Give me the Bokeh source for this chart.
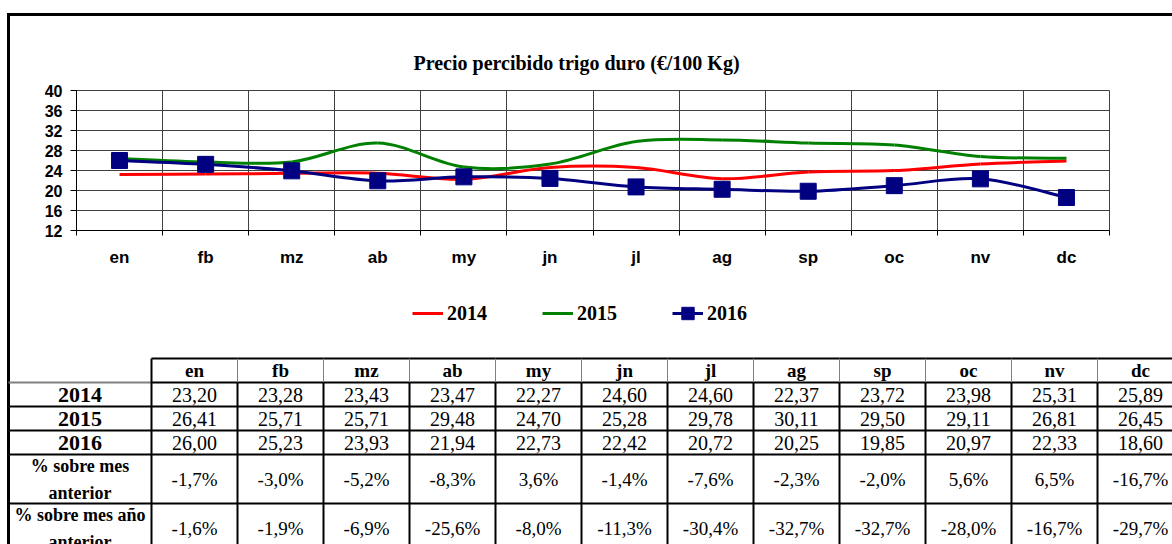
from bokeh.plotting import figure
from bokeh.models import Range1d, FixedTicker, Legend, LegendItem, ColumnDataSource
from bokeh.embed import file_html
from bokeh.resources import INLINE
from bokeh.core.properties import value

# ---------------- data ----------------
MONTHS = ["en", "fb", "mz", "ab", "my", "jn", "jl", "ag", "sp", "oc", "nv", "dc"]
YEARS = ["2014", "2015", "2016"]
P2014 = [23.20, 23.28, 23.43, 23.47, 22.27, 24.60, 24.60, 22.37, 23.72, 23.98, 25.31, 25.89]
P2015 = [26.41, 25.71, 25.71, 29.48, 24.70, 25.28, 29.78, 30.11, 29.50, 29.11, 26.81, 26.45]
P2016 = [26.00, 25.23, 23.93, 21.94, 22.73, 22.42, 20.72, 20.25, 19.85, 20.97, 22.33, 18.60]
PCT_MES_ANT = [-1.7, -3.0, -5.2, -8.3, 3.6, -1.4, -7.6, -2.3, -2.0, 5.6, 6.5, -16.7]
PCT_ANIO_ANT = [-1.6, -1.9, -6.9, -25.6, -8.0, -11.3, -30.4, -32.7, -32.7, -28.0, -16.7, -29.7]
Y_TICKS = [12, 16, 20, 24, 28, 32, 36, 40]
TITLE = "Precio percibido trigo duro (€/100 Kg)"
ROW_LABELS = ["2014", "2015", "2016", "% sobre mes\nanterior", "% sobre mes año\nanterior"]
COLORS = ["#ff0000", "#008000", "#000080"]

SERIES = [P2014, P2015, P2016]
N = len(MONTHS)
XS = list(range(N))

GRID = "#404040"
W = 1172
H1 = 270
TH = 544 - H1

BORDER_TOP_LEFT = ("linear-gradient(#000,#000) 7px 13px / 100% 3px no-repeat, "
                   "linear-gradient(#000,#000) 7px 13px / 3px 100% no-repeat")
BORDER_LEFT = "linear-gradient(#000,#000) 7px 0 / 3px 100% no-repeat"


def smooth_segments(ys):
    """Bezier control points (Excel-like smoothing) derived from the data."""
    d = dict(x0=[], y0=[], x1=[], y1=[], cx0=[], cy0=[], cx1=[], cy1=[])
    n = len(ys)
    for i in range(n - 1):
        ip = max(i - 1, 0)
        inx = min(i + 2, n - 1)
        d["x0"].append(XS[i]); d["y0"].append(ys[i])
        d["x1"].append(XS[i + 1]); d["y1"].append(ys[i + 1])
        d["cx0"].append(XS[i] + (XS[i + 1] - XS[ip]) / 6.0)
        d["cy0"].append(ys[i] + (ys[i + 1] - ys[ip]) / 6.0)
        d["cx1"].append(XS[i + 1] - (XS[inx] - XS[i]) / 6.0)
        d["cy1"].append(ys[i + 1] - (ys[inx] - ys[i]) / 6.0)
    return ColumnDataSource(d)


BEZ = dict(x0="x0", y0="y0", x1="x1", y1="y1", cx0="cx0", cy0="cy0", cx1="cx1", cy1="cy1")
sources = [smooth_segments(ys) for ys in SERIES]
marker_src = ColumnDataSource(dict(x=XS, y=P2016))

# ---------------- chart ----------------
p = figure(width=W, height=H1, x_range=Range1d(-0.5, N - 0.5),
           y_range=Range1d(Y_TICKS[0], Y_TICKS[-1]),
           output_backend="svg", toolbar_location=None,
           min_border_left=76, min_border_right=63, min_border_top=90, min_border_bottom=40,
           border_fill_color=None, background_fill_color="white",
           outline_line_color=GRID, outline_line_width=1,
           styles={"background": BORDER_TOP_LEFT})

p.title.text = TITLE
p.title.align = "left"
p.title.offset = 337
p.title.standoff = 33
p.title.text_font = "Liberation Serif"
p.title.text_font_style = "bold"
p.title.text_font_size = "20px"
p.title.text_color = "black"

xt = FixedTicker(ticks=XS, minor_ticks=[i - 0.5 for i in range(N + 1)])
xa = p.xaxis[0]
xa.ticker = xt
xa.major_label_overrides = {i: m for i, m in enumerate(MONTHS)}
xa.major_tick_line_color = None
xa.major_tick_out = 5
xa.major_tick_in = 0
xa.minor_tick_out = 5
xa.minor_tick_in = 0
xa.minor_tick_line_color = "black"
xa.axis_line_color = "black"
xa.major_label_text_font = "Liberation Sans"
xa.major_label_text_font_style = "bold"
xa.major_label_text_font_size = "17px"
xa.major_label_text_color = "black"
xa.major_label_standoff = 12

yt = FixedTicker(ticks=Y_TICKS, minor_ticks=[])
ya = p.yaxis[0]
ya.ticker = yt
ya.major_tick_out = 6
ya.major_tick_in = 0
ya.minor_tick_line_color = None
ya.major_tick_line_color = "black"
ya.axis_line_color = "black"
ya.major_label_text_font = "Liberation Sans"
ya.major_label_text_font_style = "bold"
ya.major_label_text_font_size = "16px"
ya.major_label_text_color = "black"
ya.major_label_standoff = 8

p.xgrid.ticker = xt
p.xgrid.grid_line_color = None
p.xgrid.minor_grid_line_color = GRID
p.ygrid.ticker = yt
p.ygrid.grid_line_color = GRID

for src, col in zip(sources, COLORS):
    p.bezier(source=src, line_color=col, line_width=3, **BEZ)

p.scatter(x="x", y="y", source=marker_src, marker="square", size=16,
          fill_color=COLORS[2], line_color=COLORS[2])

# ---------------- table (+ legend) ----------------
BORDER_X = 8.0    # page x of the outer left border
COL0_X = 151.0    # page x where the first month column starts
COL_W = 86.0      # px width of a month column
ROW_EDGES = [88, 112, 136, 160, 184, 233, 282]

x_start = -COL0_X / COL_W
x_border = (BORDER_X - COL0_X) / COL_W
t = figure(width=W, height=TH, x_range=Range1d(x_start, (W - COL0_X) / COL_W),
           y_range=Range1d(TH, 0), output_backend="svg", toolbar_location=None,
           min_border_left=0, min_border_right=0, min_border_top=0, min_border_bottom=0,
           x_axis_location=None, y_axis_location=None,
           border_fill_color=None, background_fill_color=None, outline_line_color=None,
           styles={"background": BORDER_LEFT})
t.xgrid.visible = False
t.ygrid.visible = False

# legend entries (renderers share the chart's sources; hidden in this panel)
leg_r = [t.bezier(source=src, line_color=col, line_width=3, visible=False, **BEZ)
         for src, col in zip(sources, COLORS)]
leg_m = t.scatter(x="x", y="y", source=marker_src, marker="square", size=16,
                  fill_color=COLORS[2], line_color=COLORS[2], visible=False)

legend = Legend(items=[LegendItem(label=YEARS[0], renderers=[leg_r[0]]),
                       LegendItem(label=YEARS[1], renderers=[leg_r[1]]),
                       LegendItem(label=YEARS[2], renderers=[leg_r[2], leg_m])],
                orientation="horizontal", location=(412, 215),
                glyph_width=31, glyph_height=32, label_standoff=4, spacing=29,
                label_width=66, padding=0, margin=0,
                border_line_color=None, background_fill_alpha=0,
                inactive_fill_alpha=0,
                label_text_font="Liberation Serif", label_text_font_style="bold",
                label_text_font_size="20px", label_text_color="black")
t.add_layout(legend, "center")

centers = [(ROW_EDGES[i] + ROW_EDGES[i + 1]) / 2.0 for i in range(len(ROW_EDGES) - 1)]
mid = [i + 0.5 for i in range(N)]
lab_x = x_border / 2.0


def fmt2(v):
    return f"{v:.2f}".replace(".", ",")


def fmtp(v):
    return f"{v:.1f}".replace(".", ",") + "%"


serif = value("Liberation Serif")

t.text(x=mid, y=[centers[0]] * N, text=MONTHS, text_align="center", text_baseline="middle",
       text_font=serif, text_font_style="bold", text_font_size="19px", text_color="black")

for k, ys in enumerate(SERIES):
    t.text(x=mid, y=[centers[k + 1]] * N, text=[fmt2(v) for v in ys],
           text_align="center", text_baseline="middle",
           text_font=serif, text_font_size="20px", text_color="black")

for k, vals in enumerate([PCT_MES_ANT, PCT_ANIO_ANT]):
    t.text(x=mid, y=[centers[k + 4]] * N, text=[fmtp(v) for v in vals],
           text_align="center", text_baseline="middle",
           text_font=serif, text_font_size="19px", text_color="black")

t.text(x=[lab_x] * 3, y=centers[1:4], text=ROW_LABELS[:3], text_align="center",
       text_baseline="middle", text_font=serif, text_font_style="bold",
       text_font_size="22px", text_color="black")
t.text(x=[lab_x] * 2, y=centers[4:6], text=ROW_LABELS[3:], text_align="center",
       text_baseline="middle", text_font=serif, text_font_style="bold",
       text_font_size="18px", text_line_height=1.35, text_color="black")

x_end = float(N)
t.segment(x0=[0.0], y0=[ROW_EDGES[0]], x1=[x_end], y1=[ROW_EDGES[0]], line_color="black", line_width=2)
t.segment(x0=[x_border], y0=[ROW_EDGES[1]], x1=[0.0], y1=[ROW_EDGES[1]], line_color="#808080", line_width=2)
t.segment(x0=[0.0], y0=[ROW_EDGES[1]], x1=[x_end], y1=[ROW_EDGES[1]], line_color="black", line_width=2)
hy = ROW_EDGES[2:6]
t.segment(x0=[x_border] * len(hy), y0=hy, x1=[x_end] * len(hy), y1=hy, line_color="black", line_width=2)
t.segment(x0=[0.0], y0=[ROW_EDGES[0]], x1=[0.0], y1=[TH], line_color="black", line_width=2)
vx = [float(i) for i in range(1, N)]
t.segment(x0=vx, y0=[ROW_EDGES[0]] * len(vx), x1=vx, y1=[ROW_EDGES[1]] * len(vx),
          line_color="#808080", line_width=1)
t.segment(x0=vx, y0=[ROW_EDGES[1]] * len(vx), x1=vx, y1=[TH] * len(vx),
          line_color="black", line_width=2)

open("out.html", "w").write(file_html([p, t], INLINE))
